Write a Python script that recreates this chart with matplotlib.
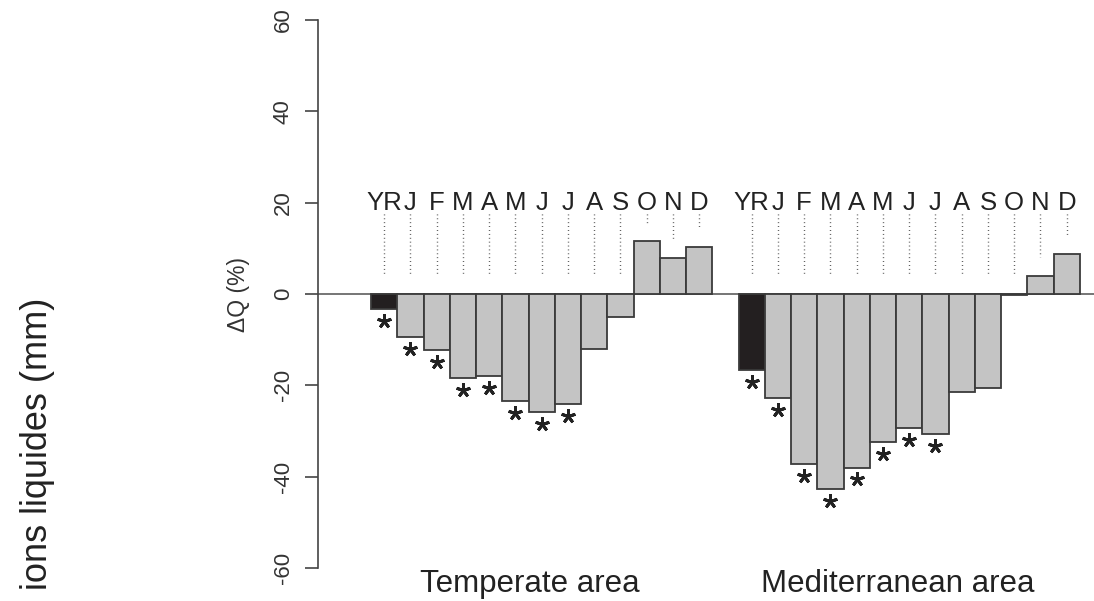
import matplotlib
matplotlib.use("Agg")
import matplotlib.pyplot as plt
import matplotlib.transforms as mtransforms
import numpy as np

plt.rcParams['font.family'] = ['Liberation Sans', 'DejaVu Sans']

# ---- data ----
month_labels = ["YR", "J", "F", "M", "A", "M", "J", "J", "A", "S", "O", "N", "D"]
temperate = [-3.3, -9.5, -12.2, -18.4, -18.0, -23.5, -25.9, -24.0, -12.0, -5.0, 11.5, 7.8, 10.3]
mediterranean = [-16.6, -22.7, -37.2, -42.8, -38.0, -32.4, -29.3, -30.6, -21.5, -20.6, -0.3, 4.0, 8.8]
temperate_signif = [1, 1, 1, 1, 1, 1, 1, 1, 0, 0, 0, 0, 0]
mediterranean_signif = [1, 1, 1, 1, 1, 1, 1, 1, 0, 0, 0, 0, 0]
group_labels = ["Temperate area", "Mediterranean area"]
yticks = [-60, -40, -20, 0, 20, 40, 60]

W, H = 1094, 601
fig = plt.figure(figsize=(W / 100, H / 100), dpi=100)
ax = fig.add_axes([318 / W, (601 - 568) / H, (1094 - 318) / W, (568 - 20) / H])

n = len(month_labels)
x_t = np.arange(n)
x_m = np.arange(n) + n + 1
xs = np.concatenate([x_t, x_m])
vals = np.array(temperate + mediterranean)
sig = np.array(temperate_signif + mediterranean_signif)
colors = (["#231f20"] + ["#c4c4c4"] * (n - 1)) * 2

ax.bar(xs, vals, width=1.0, color=colors, edgecolor="#3a3a3a", linewidth=1.3, zorder=3)
ax.axhline(0, color="#6a6a6a", linewidth=1.3, zorder=2)

# dotted guide lines and month labels
label_y = 20
for x, v, lab in zip(xs, vals, month_labels * 2):
    ax.plot([x, x], [17.6, max(v, 0) + 4], linestyle=(0, (0.6, 2.2)), color="#444444",
            linewidth=1.0, zorder=1)
    ax.text(x, label_y, lab, ha="center", va="center", fontsize=18.5, color="#222222")

# significance stars
star_tr = mtransforms.offset_copy(ax.transData, fig=fig, y=-8.6, units="points")
sx = xs[sig == 1]
sy = vals[sig == 1]
ax.plot(sx, sy, linestyle="none", marker=(5, 2, 0), markersize=10.3, markeredgewidth=2.1,
        color="#222222", transform=star_tr, zorder=4)

# group labels
group_x = [5.55, 19.55]
for gx, gl in zip(group_x, group_labels):
    ax.text(gx, -63.4, gl, ha="center", va="center", fontsize=22.5, color="#222222",
            clip_on=False)

ax.set_xlim(-2.52, 27.04)
ax.set_ylim(-60, 60)
for s in ["top", "right", "bottom"]:
    ax.spines[s].set_visible(False)
ax.spines["left"].set_color("#444444")
ax.spines["left"].set_linewidth(1.2)
ax.set_xticks([])
ax.set_yticks(yticks)
ax.set_yticklabels([str(t) for t in yticks], rotation=90, va="center")
ax.tick_params(axis="y", length=9.4, width=1.2, color="#444444", labelsize=16,
               labelcolor="#333333", pad=8)

fig.text(238 / W, 1 - 295 / H, "ΔQ (%)", rotation=90, ha="center", va="center",
         fontsize=16.5, color="#333333")
fig.text(38 / W, 1 - 298 / H, "ions liquides (mm)", rotation=90, ha="center", va="top",
         fontsize=26, color="#222222")

fig.savefig("out.png", dpi=100)
